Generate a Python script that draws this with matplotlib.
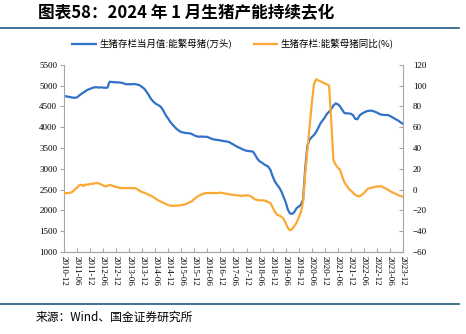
import matplotlib
matplotlib.use("Agg")
import matplotlib.pyplot as plt
import pandas as pd

# monthly data, 2010-12 .. 2023-12
start_month = "2010-12"
sows = [
    4750,
    4740, 4730, 4720, 4710, 4705, 4715, 4760, 4800, 4830, 4870, 4900, 4920,
    4940, 4955, 4960, 4950, 4955, 4950, 4945, 4950, 5090, 5085, 5080, 5075,
    5075, 5070, 5060, 5040, 5030, 5030, 5030, 5035, 5030, 5020, 5000, 4960,
    4920, 4850, 4770, 4680, 4620, 4570, 4540, 4510, 4460, 4370, 4270, 4200,
    4120, 4060, 4000, 3950, 3910, 3880, 3870, 3860, 3855, 3850, 3830, 3800,
    3780, 3770, 3775, 3770, 3770, 3765, 3740, 3720, 3705, 3695, 3690, 3680,
    3670, 3660, 3655, 3640, 3610, 3580, 3550, 3520, 3500, 3470, 3450, 3430,
    3425, 3420, 3410, 3330, 3240, 3180, 3150, 3110, 3080, 3050, 2970, 2820,
    2700, 2620, 2550, 2460, 2330, 2200, 2020, 1925, 1915, 1960, 2050, 2090,
    2135, 2250, 3000, 3550, 3700, 3760, 3810, 3880, 3980, 4090, 4160, 4230,
    4320, 4370, 4440, 4520, 4570, 4550, 4500, 4420, 4340, 4330, 4330, 4320,
    4290, 4200, 4190, 4280, 4320, 4350, 4375, 4390, 4397, 4390, 4370, 4350,
    4320, 4300, 4294, 4290, 4292, 4270, 4240, 4210, 4180, 4150, 4110, 4080,
]
sows_yoy = [
    -3.4,
    -3.5, -3.4, -3.0, -2.0, 0.0, 2.0, 4.0, 4.6, 3.5, 5.0, 4.5, 5.5,
    5.5, 6.0, 6.2, 6.0, 5.0, 4.0, 3.0, 3.5, 4.5, 4.0, 3.0, 2.5,
    2.0, 1.5, 1.5, 1.5, 1.4, 1.4, 1.4, 1.3, 1.2, 0.0, -1.5, -2.5,
    -3.0, -4.0, -5.0, -6.0, -7.0, -8.5, -10.0, -11.0, -12.0, -13.0, -14.0, -15.0,
    -15.5, -15.6, -15.5, -15.3, -15.2, -15.0, -14.5, -14.0, -13.0, -12.0, -11.0, -9.0,
    -7.5, -6.0, -5.0, -4.0, -3.5, -3.4, -3.2, -3.2, -3.4, -3.4, -3.2, -3.0,
    -3.4, -3.8, -4.0, -4.5, -5.0, -5.0, -5.5, -5.5, -6.0, -6.0, -5.8, -5.5,
    -5.7, -6.5, -8.0, -9.5, -10.0, -10.3, -10.4, -10.4, -11.0, -12.0, -13.0, -17.0,
    -21.0, -24.0, -25.0, -26.0, -28.0, -32.0, -37.0, -39.0, -38.0, -35.0, -32.0, -27.0,
    -22.0, -12.0, 15.0, 38.0, 60.0, 82.0, 101.0, 106.0, 105.0, 104.0, 103.0, 102.0,
    101.0, 100.0, 65.0, 28.0, 24.0, 21.0, 19.0, 13.0, 7.0, 4.0, 1.0, -1.0,
    -3.0, -5.0, -6.0, -6.6, -5.0, -3.5, -1.0, 1.0, 1.5, 2.0, 2.5, 3.0,
    3.0, 3.2, 2.0, 1.0, 0.0, -1.5, -2.5, -3.5, -4.5, -5.5, -6.3, -7.0,
]
label_blue = "生猪存栏当月值:能繁母猪(万头)"
label_orange = "生猪存栏:能繁母猪同比(%)"
title = "图表58：2024 年 1 月生猪产能持续去化"
source = "来源：Wind、国金证券研究所"

months = pd.date_range(start_month, periods=len(sows), freq="MS")
x = list(range(len(months)))
tick_pos = x[::6]
tick_labels = [months[i].strftime("%Y-%m") for i in tick_pos]

cjk = ["Noto Sans CJK SC", "DejaVu Sans"]
serif = "Liberation Serif"
blue = "#2F72C8"
orange = "#FBA834"
grey = "#A6A6A6"
dark = "#1F5A85"

fig = plt.figure(figsize=(4.66, 3.34), dpi=100)
ax = fig.add_axes([0.1373, 0.2455, 0.7275, 0.5608])
ax2 = ax.twinx()

l1, = ax.plot(x, sows, color=blue, lw=1.6, label=label_blue)
l2, = ax2.plot(x, sows_yoy, color=orange, lw=1.6, label=label_orange)

ax.set_xlim(0, len(x) - 1)
ax.set_ylim(1000, 5500)
ax.set_yticks(range(1000, 5501, 500))
ax2.set_ylim(-60, 120)
ax2.set_yticks(range(-60, 121, 20))
ax.set_xticks(tick_pos)
ax.set_xticklabels(tick_labels, rotation=-90, fontfamily=serif, fontsize=6.5)

for a in (ax, ax2):
    for s in a.spines.values():
        s.set_color(grey)
        s.set_linewidth(0.8)
    a.spines["top"].set_visible(False)
ax.spines["right"].set_visible(False)
ax2.spines["left"].set_visible(False)
ax.tick_params(axis="y", direction="out", length=3, color=grey, pad=2, labelsize=6.5)
ax.tick_params(axis="x", direction="in", length=3, color=grey, pad=3)
ax2.tick_params(axis="y", direction="in", length=3, color=grey, pad=7, labelsize=6.5)
for lab in ax.get_yticklabels() + ax2.get_yticklabels():
    lab.set_fontfamily(serif)

fig.legend(handles=[l1, l2], loc="center", bbox_to_anchor=(0.5, 1 - 44 / 334),
           ncol=2, frameon=False, prop={"family": cjk, "size": 6.8},
           handlelength=2.5, columnspacing=2.3, handletextpad=0.35)

fig.text(38 / 466, 1 - 13.5 / 334, title, fontsize=12, fontweight="bold",
         family=cjk, va="center", ha="left")
fig.text(36 / 466, 1 - 317 / 334, source, fontsize=8.5, family=cjk,
         va="center", ha="left")
fig.add_artist(plt.Line2D([0, 459 / 466], [1 - 28.3 / 334] * 2, color=dark, lw=1.2))
fig.add_artist(plt.Line2D([0, 459 / 466], [1 - 304 / 334] * 2, color=dark, lw=1.2))

fig.savefig("out.png", dpi=100)
